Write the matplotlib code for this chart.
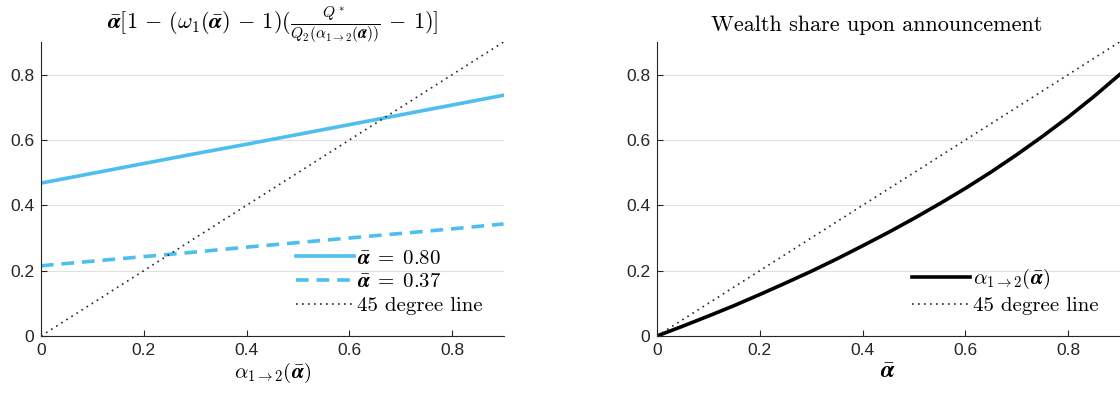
import numpy as np
import matplotlib
matplotlib.use('Agg')
import matplotlib.pyplot as plt

plt.rcParams['font.family'] = ['Liberation Sans', 'DejaVu Sans']
plt.rcParams['mathtext.fontset'] = 'cm'

# left panel: fixed point map
a12 = [0.0, 0.1, 0.2, 0.3, 0.4, 0.5, 0.6, 0.7, 0.8, 0.9]
high = [0.468, 0.498, 0.528, 0.558, 0.587, 0.617, 0.647, 0.677, 0.707, 0.737]
low = [0.215, 0.229, 0.243, 0.257, 0.272, 0.286, 0.300, 0.314, 0.328, 0.343]

# right panel: wealth share upon announcement
abar = [0.0, 0.05, 0.1, 0.15, 0.2, 0.25, 0.3, 0.35, 0.4, 0.45,
        0.5, 0.55, 0.6, 0.65, 0.7, 0.75, 0.8, 0.85, 0.9]
share = [0.0, 0.030, 0.061, 0.093, 0.127, 0.162, 0.198, 0.236, 0.276, 0.317,
         0.360, 0.405, 0.452, 0.502, 0.555, 0.611, 0.670, 0.733, 0.800]

diag = [0.0, 0.9]

blue = '#4DBEEE'
axcol = '#262626'
ab = r'\bar{\boldsymbol{\alpha}}'

fig = plt.figure(figsize=(11.2, 4.0), dpi=100)
ax1 = fig.add_axes([0.0366, 0.16, 0.413, 0.735])
ax2 = fig.add_axes([0.5866, 0.16, 0.413, 0.735])

ax1.plot(a12, high, color=blue, lw=2.6, label=r'$' + ab + r'\;=\;0.80$')
ax1.plot(a12, low, color=blue, lw=2.6, ls=(0, (3.5, 2.2)), label=r'$' + ab + r'\;=\;0.37$')
ax1.plot(diag, diag, color=axcol, lw=1.2, ls=(0, (1, 2.6)), label='45 degree line')
# y given explicitly so matplotlib does not push the tall fraction upward
ax1.set_title(r'$' + ab + r'[1\,-\,(\omega_1(' + ab + r')\,-\,1)(\frac{Q^*}{Q_2(\alpha_{1\to 2}(' + ab + r'))}\,-\,1)]$',
              fontsize=16, x=0.5, y=1.0, pad=10)
ax1.set_xlabel(r'$\alpha_{1\to 2}(' + ab + r')$', fontsize=15, labelpad=2)

ax2.plot(abar, share, color='black', lw=2.6, label=r'$\alpha_{1\to 2}(' + ab + r')$')
ax2.plot(diag, diag, color=axcol, lw=1.2, ls=(0, (1, 2.6)), label='45 degree line')
ax2.set_title('Wealth share upon announcement', fontsize=16, pad=8, x=0.475)
ax2.title.set_fontfamily(['cmr10'])
ax2.set_xlabel(r'$' + ab + r'$', fontsize=17, labelpad=2)

for ax in (ax1, ax2):
    ax.set_xlim(0, 0.9)
    ax.set_ylim(0, 0.9)
    ax.set_xticks([0, 0.2, 0.4, 0.6, 0.8])
    ax.set_xticklabels(['0', '0.2', '0.4', '0.6', '0.8'])
    ax.set_yticks([0, 0.2, 0.4, 0.6, 0.8])
    ax.set_yticklabels(['0', '0.2', '0.4', '0.6', '0.8'])
    ax.grid(axis='y', color='#e0e0e0', lw=0.8)
    ax.set_axisbelow(True)
    ax.spines['top'].set_visible(False)
    ax.spines['right'].set_visible(False)
    for s in ('left', 'bottom'):
        ax.spines[s].set_color(axcol)
        ax.spines[s].set_linewidth(0.8)
    ax.tick_params(direction='in', length=4, width=0.8, colors=axcol, labelsize=12.5, pad=5)
    leg = ax.legend(loc='lower right', frameon=False, fontsize=15, handlelength=2.8,
                    handletextpad=0.15, borderaxespad=0.6, labelspacing=0.25)
    for t in leg.get_texts():
        t.set_fontfamily(['cmr10'])

fig.savefig('out.png', dpi=100)
